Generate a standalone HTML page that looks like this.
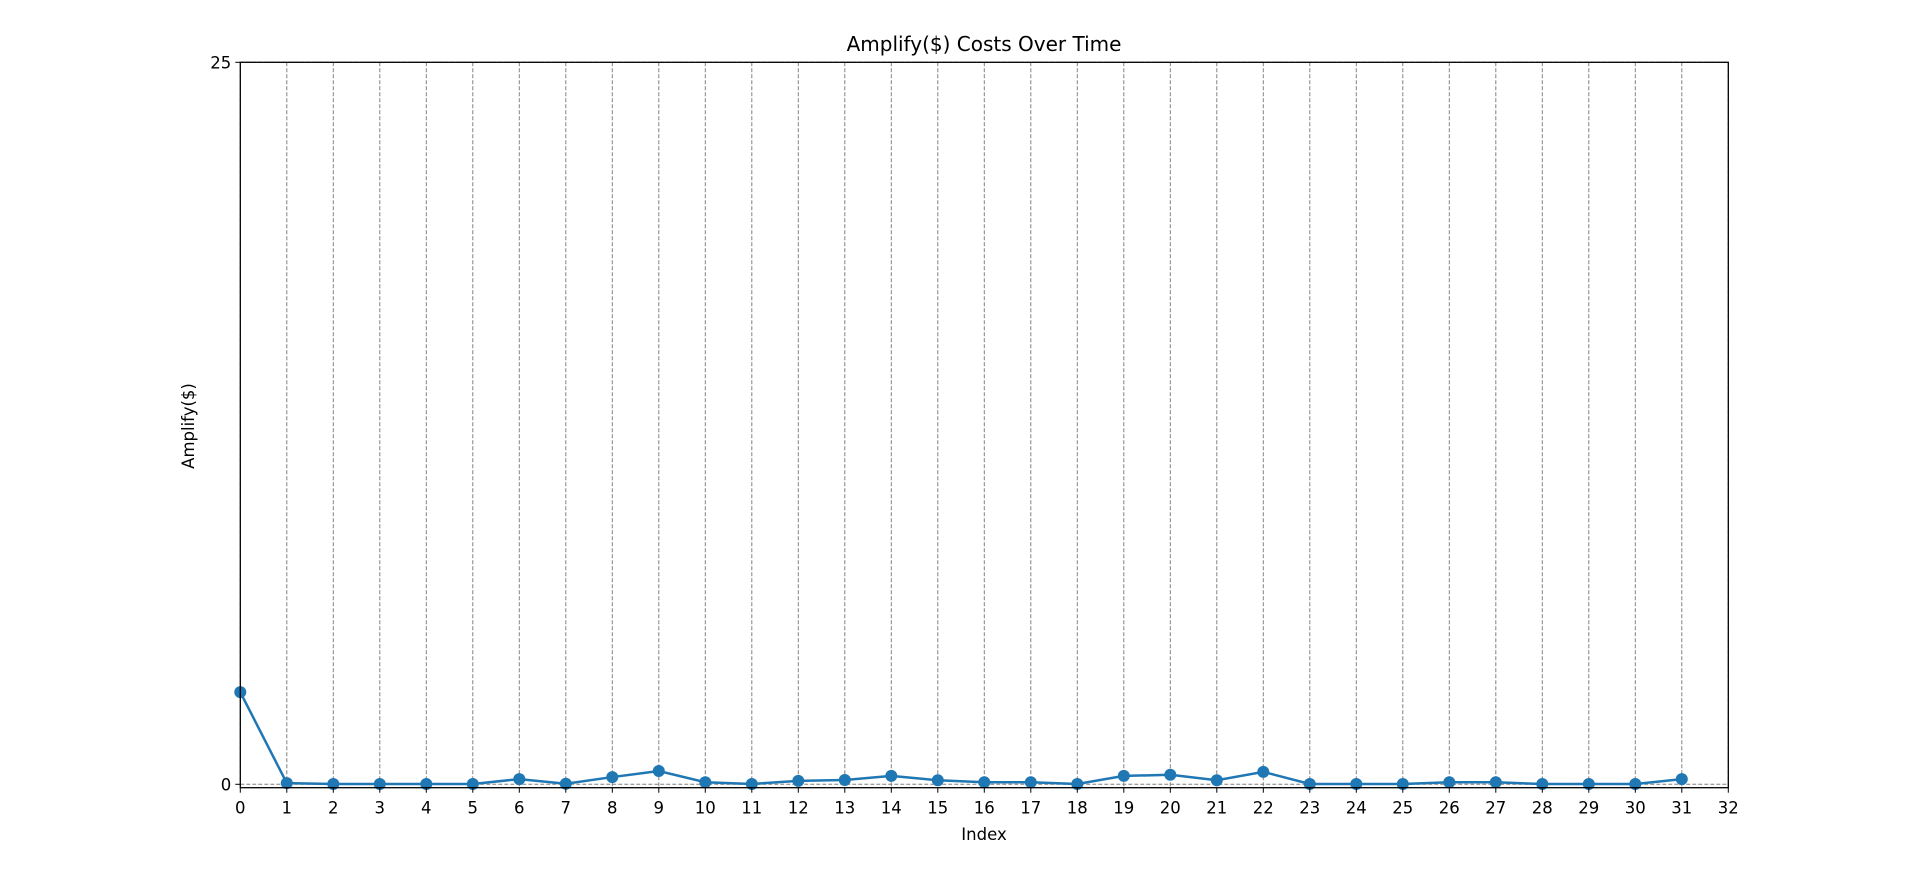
<!DOCTYPE html>
<html><head><meta charset="utf-8"><style>
body{margin:0;background:#fff;}
svg text{font-family:"DejaVu Sans","Liberation Sans",sans-serif;fill:#000;}
</style></head><body>
<svg id="chart" width="1919" height="888"></svg>
<script>
const categories = [0,1,2,3,4,5,6,7,8,9,10,11,12,13,14,15,16,17,18,19,20,21,22,23,24,25,26,27,28,29,30,31];
const values = [3.19,0.04,0.01,0.01,0.01,0.01,0.18,0.02,0.25,0.46,0.07,0.01,0.12,0.15,0.29,0.14,0.07,0.07,0.01,0.29,0.33,0.14,0.43,0.01,0.01,0.01,0.07,0.07,0.01,0.01,0.01,0.18];
const xTicks = [0,1,2,3,4,5,6,7,8,9,10,11,12,13,14,15,16,17,18,19,20,21,22,23,24,25,26,27,28,29,30,31,32];
const yTicks = [0,25];
const NS="http://www.w3.org/2000/svg";
const svg=document.getElementById('chart');
const L=240.3,R=1728.3,T=62.3,B=787.7;
const xMin=0,xMax=32,yMin=-0.118,yMax=25;
const xs=v=>L+(v-xMin)/(xMax-xMin)*(R-L);
const ys=v=>B-(v-yMin)/(yMax-yMin)*(B-T);
function mk(tag,attrs,parent){const e=document.createElementNS(NS,tag);for(const k in attrs)e.setAttribute(k,attrs[k]);(parent||svg).appendChild(e);return e;}
const grid=mk('g',{});


xTicks.forEach(t=>{const l=mk('line',{x1:xs(t),x2:xs(t),y1:T,y2:B,stroke:'#808080','stroke-width':1,'stroke-dasharray':'4,2'},grid);

});
yTicks.forEach(t=>{const l=mk('line',{x1:L,x2:R,y1:ys(t),y2:ys(t),stroke:'#808080','stroke-width':1,'stroke-dasharray':'4,2'},grid);

});
const pts=categories.map((c,i)=>xs(c)+','+ys(values[i])).join(' ');
const line=mk('polyline',{points:pts,fill:'none',stroke:'#1f77b4','stroke-width':2.5});


categories.forEach((c,i)=>{const p=mk('circle',{cx:xs(c),cy:ys(values[i]),r:6,fill:'#1f77b4'});

});
const frame=mk('rect',{x:L,y:T,width:R-L,height:B-T,fill:'none',stroke:'#000','stroke-width':1.3});


xTicks.forEach(t=>{mk('line',{x1:xs(t),x2:xs(t),y1:B,y2:B+5,stroke:'#000','stroke-width':1});
const tx=mk('text',{x:xs(t),y:B+26,'text-anchor':'middle','font-size':16.5});tx.textContent=t;

});
yTicks.forEach(t=>{mk('line',{x1:L-5,x2:L,y1:ys(t),y2:ys(t),stroke:'#000','stroke-width':1});
const tx=mk('text',{x:L-9,y:ys(t)+6,'text-anchor':'end','font-size':16.5});tx.textContent=t;

});
</script>
<svg width="1919" height="888" style="position:absolute;left:0;top:0;pointer-events:none">
<text x="984" y="51" text-anchor="middle" font-size="20">Amplify($) Costs Over Time</text>
<text x="984" y="840" text-anchor="middle" font-size="16.5">Index</text>
<text x="0" y="0" transform="translate(194,426) rotate(-90)" text-anchor="middle" font-size="16.5">Amplify($)</text>
</svg>
</body></html>
